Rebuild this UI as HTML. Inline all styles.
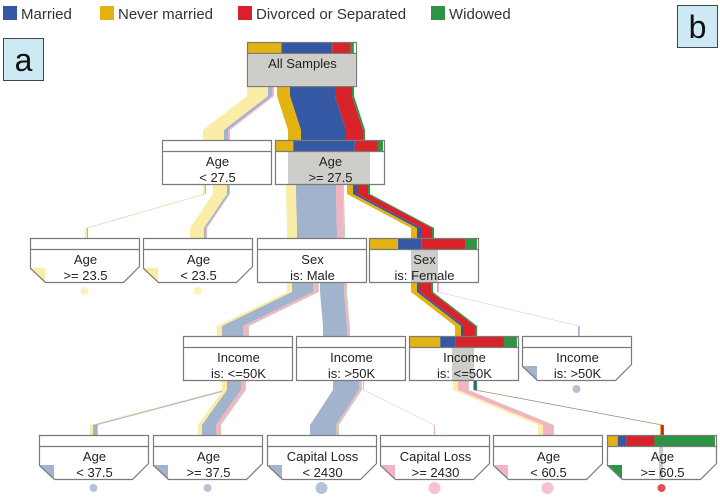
<!DOCTYPE html>
<html><head><meta charset="utf-8"><style>
html,body{margin:0;padding:0;background:#fff;}
svg{display:block;font-family:"Liberation Sans","DejaVu Sans",sans-serif;}
</style></head><body>
<svg id="c" width="720" height="498" viewBox="0 0 720 498"></svg>
<script>
const classNames = ["Never married","Married","Divorced or Separated","Widowed"];
const strongColors = ["#e3b311","#3558a5","#d8232a","#2e9444"];
const fadedColors = ["#fbeda6","#a2b4cd","#f4b3c2","#b8dcb2"];
const legendOrder = [1,0,2,3];

// node labels
const nodeLine1 = ["All Samples","Age","Age","Age","Age","Sex","Sex","Income","Income","Income","Income","Age","Age","Capital Loss","Capital Loss","Age","Age"];
const nodeLine2 = ["","< 27.5",">= 27.5",">= 23.5","< 23.5","is: Male","is: Female","is: <=50K","is: >50K","is: <=50K","is: >50K","< 37.5",">= 37.5","< 2430",">= 2430","< 60.5",">= 60.5"];
const nodeLevel = [0,1,1,2,2,2,2,3,3,3,3,4,4,4,4,4,4];
const nodeLeft = [247,162,275,30,143,257,369,183,296,409,522,39,153,267,380,493,607];
const nodeLeaf = [0,0,0,1,1,0,0,0,0,0,1,1,1,1,1,1,1];
// class distribution shown on selected nodes (share of node width)
const distNever = [0.31,0,0.16,0,0,0,0.26,0,0,0.28,0,0,0,0,0,0,0.09];
const distMarried = [0.47,0,0.57,0,0,0,0.22,0,0,0.14,0,0,0,0,0,0,0.08];
const distDivorced = [0.17,0,0.21,0,0,0,0.40,0,0,0.45,0,0,0,0,0,0,0.26];
const distWidowed = [0.03,0,0.05,0,0,0,0.11,0,0,0.12,0,0,0,0,0,0,0.56];
// leaf dominant class (index into classNames), -1 none
const leafClass = [-1,-1,-1,0,0,-1,-1,-1,-1,-1,1,1,1,1,2,2,3];
// highlight band [start,end] within node, relative px
const hlStart = [0,0,13,0,0,0,42,0,0,43,0,0,0,0,0,0,52];
const hlEnd = [110,0,95,0,0,0,69,0,0,65,0,0,0,0,0,0,56];

// flows: parent, child, start offset in parent, end offset in child, strong?, dashed?
const flowParent = [0,0,1,1,2,2,5,5,6,6,7,7,8,8,9,9];
const flowChild = [1,2,3,4,5,6,7,8,9,10,11,12,13,14,15,16];
const flowStart = [0,30,41,51,11,72,30,63,42,68,39,40,37,67,44,64];
const flowEnd = [41,13,55,47,30,42,34,27,46,56,51,45,43,54,45,53];
const flowStrong = [0,1,0,0,0,1,0,0,1,0,0,0,0,0,0,1];
const flowDash = [0,0,0,0,0,0,0,0,0,0,0,0,0,0,0,1];
// per-flow class widths (px) in class order [never, married, divorced, widowed]
const flowNever = [21,13,2,14,10,6,5,0,6,0,3,4,0,0,5,1];
const flowMarried = [4,45,1,2,40,4,21,24,3,1,4,14,26,0,0,1];
const flowDivorced = [2,17,0,1,7,11,5,2,11,1,1,4,2,1,10,1];
const flowWidowed = [0,2,0,0,1,2,1,1,2,0,0,1,1,0,1,1];

const levelTop = [42,140,238,336,435];
const NW = 109, NH = 44, BAR = 11;
const svg = document.getElementById('c');
const NS = 'http://www.w3.org/2000/svg';
function mk(tag, attrs, parent){
  const e = document.createElementNS(NS, tag);
  for (const k in attrs) e.setAttribute(k, attrs[k]);
  (parent||svg).appendChild(e);
  return e;
}

// legend
const legX = [3,100,238,431];
legendOrder.forEach((ci,i)=>{
  const g = mk('g',{});
  
  
  mk('rect',{x:legX[i],y:6,width:14,height:14,fill:strongColors[ci]},g);
  const t = mk('text',{x:legX[i]+18,y:19,'font-size':15,fill:'#333'},g);
  t.textContent = classNames[ci];
});

// panel labels
[['a',3,38,'panel-label-a'],['b',677,5,'panel-label-b']].forEach(p=>{
  const g = mk('g',{});
  
  
  mk('rect',{x:p[1]+0.5,y:p[2]+0.5,width:40,height:42,fill:'#cde9f4',stroke:'#444'},g);
  const t = mk('text',{x:p[1]+20.5,y:p[2]+33,'font-size':32,'text-anchor':'middle',fill:'#111'},g);
  t.textContent = p[0];
});

// flows
flowParent.forEach((p,i)=>{
  const c = flowChild[i];
  const y0 = levelTop[nodeLevel[p]] + NH, y1 = levelTop[nodeLevel[c]];
  const ya = y0 + 10, yb = y1 - 10;
  let xs = nodeLeft[p] + flowStart[i], xe = nodeLeft[c] + flowEnd[i];
  const ws = [flowNever[i],flowMarried[i],flowDivorced[i],flowWidowed[i]];
  const g = mk('g',{});
  
  
  ws.forEach((w,ci)=>{
    if (w<=0) return;
    const col = flowStrong[i] ? strongColors[ci] : fadedColors[ci];
    const pts = [[xs,y0],[xs,ya],[xe,yb],[xe,y1],[xe+w,y1],[xe+w,yb],[xs+w,ya],[xs+w,y0]];
    const poly = mk('polygon',{points:pts.map(q=>q.join(',')).join(' '),fill:col},g);
    if (flowDash[i]) poly.setAttribute('stroke-dasharray','4 3');
    xs += w; xe += w;
  });
});

// nodes
nodeLine1.forEach((l1,i)=>{
  const x = nodeLeft[i], y = levelTop[nodeLevel[i]];
  const g = mk('g',{});
  
  
  let outline;
  if (nodeLeaf[i]) {
    outline = [[x,y],[x+NW,y],[x+NW,y+NH-16],[x+NW-16,y+NH],[x+15,y+NH],[x,y+NH-14]];
  } else {
    outline = [[x,y],[x+NW,y],[x+NW,y+NH],[x,y+NH]];
  }
  const ptsStr = outline.map(q=>(q[0]+0.5)+','+(q[1]+0.5)).join(' ');
  mk('polygon',{points:ptsStr,fill:'#fff'},g);
  if (hlEnd[i] > hlStart[i]) {
    mk('rect',{x:x+hlStart[i],y:y+BAR,width:hlEnd[i]-hlStart[i],height:NH-BAR,fill:'#cfcdc9'},g);
  }
  const d = [distNever[i],distMarried[i],distDivorced[i],distWidowed[i]];
  let bx = x + 1;
  d.forEach((v,ci)=>{
    if (v<=0) return;
    const w = v*(NW-1);
    mk('rect',{x:bx,y:y+1,width:w,height:BAR-1,fill:strongColors[ci]},g);
    bx += w;
  });
  if (leafClass[i] >= 0) {
    mk('polygon',{points:`${x+1},${y+NH-14} ${x+15},${y+NH-14} ${x+15},${y+NH}`,fill:i===16?strongColors[3]:fadedColors[leafClass[i]]},g);
    const dot = mk('circle',{cx:x+NW/2+(i===16?0:0),cy:y+NH+9,r:i>=13&&i<=15?6:4,fill:i===16?strongColors[2]:fadedColors[leafClass[i]],opacity:0.8},g);
  }
  mk('polygon',{points:ptsStr,fill:'none',stroke:'#7a7a7a','stroke-width':1.2},g);
  mk('line',{x1:x,y1:y+BAR+0.5,x2:x+NW,y2:y+BAR+0.5,stroke:'#7a7a7a','stroke-width':1.2},g);
  if (i===0) {
    mk('rect',{x:x+1,y:y+BAR+1,width:NW-1,height:NH-BAR-1,fill:'#cfcdc9'},g);
    const t = mk('text',{x:x+NW/2+1,y:y+26,'font-size':13,'text-anchor':'middle',fill:'#222'},g);
    t.textContent = l1;
  } else {
    const t1 = mk('text',{x:x+NW/2+1,y:y+26,'font-size':13,'text-anchor':'middle',fill:'#222'},g);
    t1.textContent = l1;
    const t2 = mk('text',{x:x+NW/2+1,y:y+42,'font-size':13,'text-anchor':'middle',fill:'#222'},g);
    t2.textContent = nodeLine2[i];
  }
});
</script>
</body></html>
